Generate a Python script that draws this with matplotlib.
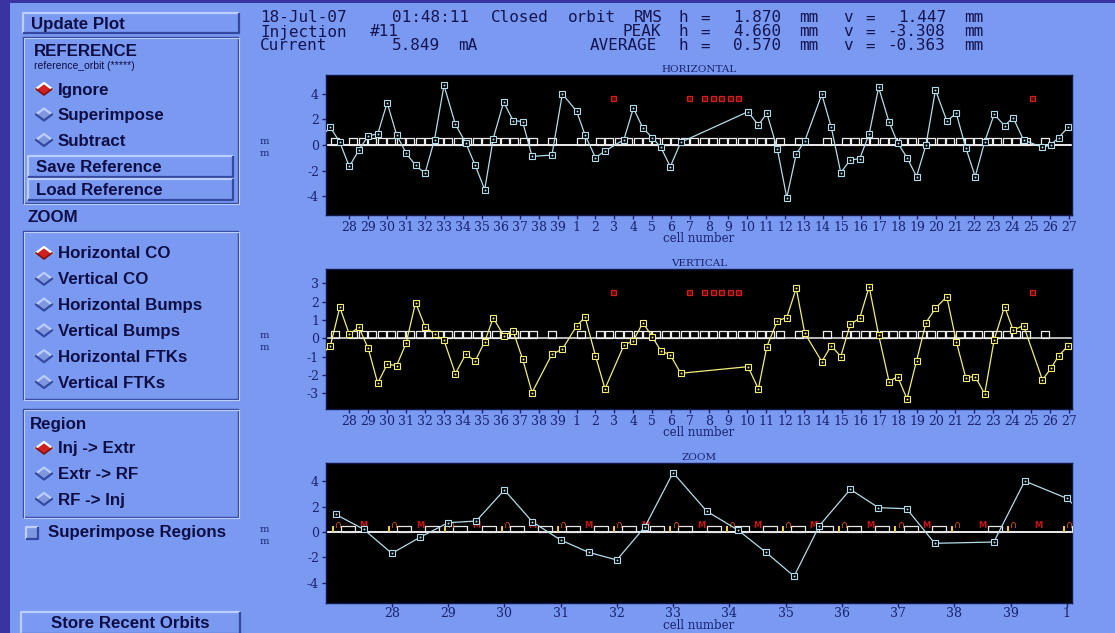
import matplotlib
matplotlib.use('Agg')
import matplotlib.pyplot as plt
from matplotlib.patches import Rectangle, Polygon
import numpy as np
import re

W, H = 1115, 633

# ---------------- data ----------------
cell_labels = ['28', '29', '30', '31', '32', '33', '34', '35', '36', '37', '38', '39',
               '1', '2', '3', '4', '5', '6', '7', '8', '9', '10', '11', '12', '13', '14',
               '15', '16', '17', '18', '19', '20', '21', '22', '23', '24', '25', '26', '27']
zoom_cell_labels = ['28', '29', '30', '31', '32', '33', '34', '35', '36', '37', '38', '39', '1']
ring_cells = 39

bpm_pos = [27.0, 27.5, 28.0, 28.5, 29.0, 29.5, 30.0, 30.5, 31.0, 31.5,
           32.0, 32.5, 33.0, 33.6, 34.15, 34.65, 35.15, 35.6, 36.15, 36.65,
           37.15, 37.65, 38.7, 39.25, 40.0, 40.45, 41.0, 41.5, 42.5, 43.0,
           43.5, 44.0, 44.45, 44.95, 45.5, 49.05, 49.6, 50.05, 50.6, 51.1,
           51.6, 52.05, 52.95, 53.45, 53.95, 54.45, 54.95, 55.45, 55.95, 56.5,
           56.95, 57.45, 57.95, 58.45, 58.95, 59.55, 60.05, 60.55, 61.05, 61.55,
           62.05, 62.6, 63.05, 63.6, 64.6, 65.05, 65.45, 65.95]

h_orbit = [1.39, 0.21, -1.68, -0.42, 0.73, 0.86, 3.3, 0.79, -0.63, -1.6,
           -2.2, 0.42, 4.66, 1.62, 0.16, -1.6, -3.48, 0.5, 3.35, 1.91,
           1.83, -0.89, -0.79, 4.0, 2.64, 0.78, -0.99, -0.47, 0.42, 2.89,
           1.33, 0.57, -0.18, -1.69, 0.21, 2.6, 1.56, 2.47, -0.31, -4.11,
           -0.7, 0.31, 3.96, 1.38, -2.16, -1.17, -1.07, 0.86, 4.5, 1.8,
           0.18, -0.99, -2.47, 0.0, 4.3, 1.88, 2.47, -0.21, -2.47, 0.26,
           2.40, 1.51, 2.14, 0.39, -0.18, 0.03, 0.57, 1.38]

v_orbit = [-0.42, 1.69, 0.22, 0.6, -0.55, -2.45, -1.42, -1.49, -0.27, 1.95,
           0.64, 0.22, -0.11, -1.93, -0.87, -1.24, -0.18, 1.11, 0.15, 0.38,
           -1.13, -2.96, -0.87, -0.6, 0.67, 1.16, -0.96, -2.76, -0.38, -0.13,
           0.85, 0.09, -0.69, -0.91, -1.91, -1.55, -2.76, -0.45, 0.95, 1.13,
           2.73, 0.27, -1.27, -0.4, -1.0, 0.76, 1.09, 2.82, 0.18, -2.36,
           -2.09, -3.31, -1.24, 0.85, 1.64, 2.27, -0.18, -2.15, -2.09, -3.04,
           -0.09, 1.73, 0.45, 0.69, -2.27, -1.64, -0.96, -0.42]

disabled_bpm_pos = [41.95, 45.95, 46.75, 47.2, 47.65, 48.1, 48.55, 64.05]
disabled_h_level = 3.65
disabled_v_level = 2.55

corrector_pos = [27.22,
                 28.22, 28.72, 29.22, 29.72, 30.22, 30.72, 31.22, 31.72, 32.22, 32.72,
                 33.22, 33.72, 34.22, 34.72, 35.22, 35.72, 36.22, 36.72, 37.22, 37.72,
                 38.72, 40.22,
                 41.22, 41.72, 42.22, 42.72, 43.22, 43.72, 44.22, 44.72, 45.22, 45.72,
                 46.22, 46.72, 47.22, 47.72, 48.22, 48.72, 49.22, 49.72, 50.22, 50.72,
                 51.72, 53.22,
                 54.22, 54.72, 55.22, 55.72, 56.22, 56.72, 57.22, 57.72, 58.22, 58.72,
                 59.22, 59.72, 60.22, 60.72, 61.22, 61.72, 62.22, 62.72, 63.22, 63.72,
                 64.72]

lattice_bend_pos = [27, 28, 29, 30, 31, 32, 33, 34, 35, 36, 37, 38, 39, 40]
lattice_quad_pos = [27.5, 28.5, 29.5, 30.5, 31.5, 32.5, 33.5, 34.5, 35.5, 36.5, 37.5, 38.5, 39.5]

header_lines = [
    "18-Jul-07   01:48:11 Closed orbit RMS h =  1.870 mm  v =  1.447 mm",
    "Injection #11                    PEAK h =  4.660 mm  v = -3.308 mm",
    "Current     5.849 mA          AVERAGE h =  0.570 mm  v = -0.363 mm",
]
reference_options = ['Ignore', 'Superimpose', 'Subtract']
zoom_options = ['Horizontal CO', 'Vertical CO', 'Horizontal Bumps', 'Vertical Bumps',
                'Horizontal FTKs', 'Vertical FTKs']
region_options = ['Inj -> Extr', 'Extr -> RF', 'RF -> Inj']

# ---------------- colours ----------------
PANEL = '#7a9af2'
FRAME_DARK = '#3a34a2'
TXT = '#0e0e44'
NAVY = '#1a2270'
LIGHT = '#bccdff'
DARK = '#3548a0'
H_COL = '#b4dcea'
V_COL = '#f2ee78'
RED = '#d02020'

fig = plt.figure(figsize=(W / 100, H / 100), dpi=100, facecolor=PANEL)
bg = fig.add_axes([0, 0, 1, 1], zorder=0)
bg.set_xlim(0, W)
bg.set_ylim(H, 0)
bg.axis('off')

# window frame
bg.add_patch(Rectangle((0, 0), 10, H, color=FRAME_DARK, lw=0))
bg.add_patch(Rectangle((0, 0), W, 3, color=FRAME_DARK, lw=0))

SANS = 'Liberation Sans'
FS = 12.2


def bevel(x0, y0, x1, y1, raised=True, lw=1.6):
    lt, dk = (LIGHT, DARK) if raised else (DARK, LIGHT)
    bg.plot([x0, x0, x1], [y1, y0, y0], color=lt, lw=lw, solid_capstyle='butt')
    bg.plot([x0, x1, x1], [y1, y1, y0], color=dk, lw=lw, solid_capstyle='butt')


def etched(x0, y0, x1, y1):
    bg.add_patch(Rectangle((x0, y0), x1 - x0, y1 - y0, fill=False, ec=DARK, lw=1))
    bg.add_patch(Rectangle((x0 + 1, y0 + 1), x1 - x0, y1 - y0, fill=False, ec=LIGHT, lw=0.8))


def button(x0, y0, x1, y1, label, center=False):
    bevel(x0, y0, x1, y1)
    if center:
        bg.text((x0 + x1) / 2, (y0 + y1) / 2 + 1, label, ha='center', va='center',
                fontsize=FS, fontweight='bold', family=SANS, color=TXT)
    else:
        bg.text(x0 + 8, (y0 + y1) / 2 + 1, label, ha='left', va='center',
                fontsize=FS, fontweight='bold', family=SANS, color=TXT)


def radio(cy, label, selected):
    cx, w, h = 44, 8, 6
    pts = [(cx - w, cy), (cx, cy - h), (cx + w, cy), (cx, cy + h)]
    if selected:
        bg.add_patch(Polygon(pts, closed=True, fc=RED, ec='none'))
        bg.plot([cx - w, cx, cx + w], [cy, cy - h, cy], color='white', lw=1.6)
        bg.plot([cx - w, cx, cx + w], [cy, cy + h, cy], color='#801010', lw=1.2)
    else:
        bg.add_patch(Polygon(pts, closed=True, fc='#7e98e0', ec='none'))
        bg.plot([cx - w, cx, cx + w], [cy, cy - h, cy], color=LIGHT, lw=1.6)
        bg.plot([cx - w, cx, cx + w], [cy, cy + h, cy], color=DARK, lw=1.6)
    bg.text(58, cy + 1, label, ha='left', va='center', fontsize=FS,
            fontweight='bold', family=SANS, color=TXT)


# left panel widgets
button(23, 13, 239, 33, 'Update Plot')
etched(23, 37, 238, 203)
bg.text(34, 52, 'REFERENCE', ha='left', va='center', fontsize=12.2, family=SANS,
        fontweight='semibold', color=TXT)
bg.text(34, 66, 'reference_orbit (*****)', ha='left', va='center', fontsize=7.5,
        family=SANS, color=TXT)
for i, opt in enumerate(reference_options):
    radio(89 + i * 25.5, opt, i == 0)
button(28, 156, 233, 177, 'Save Reference')
button(28, 179, 233, 200, 'Load Reference')

bg.text(27, 217, 'ZOOM', ha='left', va='center', fontsize=FS, fontweight='bold',
        family=SANS, color=TXT)
etched(23, 231, 238, 399)
for i, opt in enumerate(zoom_options):
    radio(253 + i * 25.8, opt, i == 0)

etched(23, 409, 238, 517)
bg.text(30, 424, 'Region', ha='left', va='center', fontsize=FS, fontweight='bold',
        family=SANS, color=TXT)
for i, opt in enumerate(region_options):
    radio(448 + i * 25.5, opt, i == 0)

bg.add_patch(Rectangle((26, 527), 12, 12, fc='#7e98e0', ec='none'))
bevel(26, 527, 38, 539)
bg.text(48, 533, 'Superimpose Regions', ha='left', va='center', fontsize=FS,
        fontweight='bold', family=SANS, color=TXT)
button(21, 612, 240, 634, 'Store Recent Orbits', center=True)

# header: monospace columns of 11 px
for i, line in enumerate(header_lines):
    for m in re.finditer(r'\S+', line):
        bg.text(260 + 11 * m.start(), 18 + i * 14, m.group(), ha='left', va='center',
                family='DejaVu Sans Mono', fontsize=11.5, color='#141450')

# ---------------- plots ----------------
SERIF = 'DejaVu Serif'


def make_axes(top_px, xlim, ylim, yticks, xticks, xlabels, title, xpad=2, labelpad=0):
    left, right, bottom = 326, 1072, top_px + 140
    ax = fig.add_axes([left / W, 1 - bottom / H, (right - left) / W, 140 / H], zorder=2)
    ax.set_facecolor('black')
    ax.set_xlim(*xlim)
    ax.set_ylim(*ylim)
    ax.set_yticks(yticks)
    ax.set_yticklabels([str(t) for t in yticks])
    ax.set_xticks(xticks)
    ax.set_xticklabels(xlabels)
    for sp in ax.spines.values():
        sp.set_color('#101848')
        sp.set_linewidth(1)
    ax.tick_params(axis='both', colors=NAVY, labelsize=9, length=3, width=1,
                   direction='out', pad=2)
    ax.tick_params(axis='x', pad=xpad)
    for lab in ax.get_xticklabels() + ax.get_yticklabels():
        lab.set_family(SERIF)
    ax.set_xlabel('cell number', family=SERIF, fontsize=8.5, color=NAVY, labelpad=labelpad)
    ax.set_title(title, family=SERIF, fontsize=7.5, color=NAVY, pad=2)
    bg.text(264, top_px + 66, 'm', family=SERIF, fontsize=7, color=NAVY, ha='center', va='center')
    bg.text(264, top_px + 78, 'm', family=SERIF, fontsize=7, color=NAVY, ha='center', va='center')
    return ax


box_marker = [(-0.6, 0), (0.6, 0), (0.6, 1), (-0.6, 1), (-0.6, 0)]
wide_box_marker = [(-1.15, 0), (1.15, 0), (1.15, 1), (-1.15, 1), (-1.15, 0)]

main_ticks = list(np.arange(28, 28 + len(cell_labels)))
bpm = np.array(bpm_pos)


def orbit_panel(ax, values, col, zero_col, disabled_level):
    vals = np.array(values)
    xs = np.concatenate([[bpm[-2] - ring_cells], bpm])
    ys = np.concatenate([[vals[-2]], vals])
    ax.axhline(0, color=zero_col, lw=1.3, zorder=2)
    ax.plot(corrector_pos, np.zeros(len(corrector_pos)), ls='none', marker=box_marker,
            ms=9.6, mfc='none', mec='#ececec', mew=0.9, zorder=3)
    ax.plot(xs, ys, color=col, lw=0.9, zorder=4)
    ax.plot(bpm, vals, ls='none', marker='s', ms=4.4, mfc='black', mec=col, mew=0.8, zorder=5)
    ax.plot(bpm, vals, ls='none', marker='s', ms=0.9, mfc=col, mec=col, mew=0.3, zorder=6)
    ax.plot(disabled_bpm_pos, np.full(len(disabled_bpm_pos), disabled_level), ls='none',
            marker='s', ms=3.6, mfc='#5a0808', mec=RED, mew=0.9, zorder=5)


ax_h = make_axes(75, (26.77, 66.16), (-5.47, 5.47), [-4, -2, 0, 2, 4], main_ticks,
                 cell_labels, 'HORIZONTAL', xpad=1, labelpad=-1)
orbit_panel(ax_h, h_orbit, H_COL, 'white', disabled_h_level)

ax_v = make_axes(269, (26.77, 66.16), (-3.86, 3.78), [-3, -2, -1, 0, 1, 2, 3], main_ticks,
                 cell_labels, 'VERTICAL', xpad=1, labelpad=-1)
orbit_panel(ax_v, v_orbit, V_COL, '#c8c8c8', disabled_v_level)

zoom_ticks = list(np.arange(28, 28 + len(zoom_cell_labels)))
ax_z = make_axes(463, (26.83, 40.09), (-5.58, 5.42), [-4, -2, 0, 2, 4], zoom_ticks,
                 zoom_cell_labels, 'ZOOM', xpad=0, labelpad=-0.5)
ax_z.axhline(0, color='white', lw=1.3, zorder=2)
ax_z.plot(corrector_pos, np.zeros(len(corrector_pos)), ls='none', marker=wide_box_marker,
          ms=10.5, mfc='none', mec='#e4e4e4', mew=0.9, zorder=3)
ax_z.plot(np.array(lattice_bend_pos) - 0.05, np.zeros(len(lattice_bend_pos)), ls='none',
          marker=[(0, 0), (0, 1)], ms=9, mec='#f4d040', mew=1.4, zorder=3)
for p in lattice_bend_pos:
    ax_z.text(p + 0.05, 0.12, '\u2229', color='#e05a18', fontsize=7, ha='center',
              va='bottom', clip_on=True, zorder=3)
for p in lattice_quad_pos:
    ax_z.text(p, 0.12, 'M', color='#c81414', fontsize=6, fontweight='bold', ha='center',
              va='bottom', clip_on=True, zorder=3)
ax_z.plot(bpm, h_orbit, color=H_COL, lw=0.9, zorder=4)
ax_z.plot(bpm, h_orbit, ls='none', marker='s', ms=4.2, mfc='black', mec=H_COL, mew=0.8, zorder=5)
ax_z.plot(bpm, h_orbit, ls='none', marker='s', ms=0.9, mfc=H_COL, mec=H_COL, mew=0.3, zorder=6)

fig.savefig('out.png', dpi=100, facecolor=PANEL)
